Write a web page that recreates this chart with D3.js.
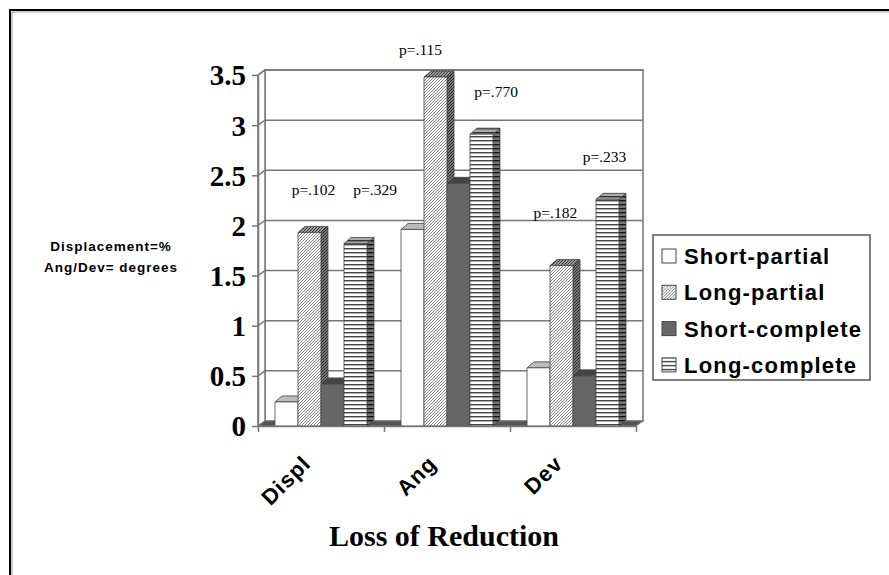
<!DOCTYPE html>
<html>
<head>
<meta charset="utf-8">
<script src="https://cdn.jsdelivr.net/npm/d3@7"></script>
<style>
	body { margin: 0; background: #fff; }
</style>
</head>
<body>
<svg id="chart" width="889" height="575"></svg>
<script>
const CATEGORIES = ["Displ", "Ang", "Dev"];
const SERIES = ["Short-partial", "Long-partial", "Short-complete", "Long-complete"];
const SHORT_PARTIAL = [0.24, 1.96, 0.58];
const LONG_PARTIAL = [1.93, 3.48, 1.60];
const SHORT_COMPLETE = [0.42, 2.42, 0.50];
const LONG_COMPLETE = [1.82, 2.91, 2.26];
const Y_TICKS = [0, 0.5, 1, 1.5, 2, 2.5, 3, 3.5];

// p-value notes: position along the category axis (0..3) and on the value axis
const P_TEXT = ["p=.102", "p=.329", "p=.115", "p=.770", "p=.182", "p=.233"];
const P_AT = [0.44, 0.93, 1.29, 1.89, 2.36, 2.75];
const P_VAL = [2.30, 2.30, 3.70, 3.28, 2.07, 2.63];

const NOTE = ["Displacement=%", "Ang/Dev= degrees"];
const TITLE = "Loss of Reduction";

const VALUES = [SHORT_PARTIAL, LONG_PARTIAL, SHORT_COMPLETE, LONG_COMPLETE];

const svg = d3.select("#chart");

const plotLeft = 258, plotRight = 636, plotBottom = 426, plotTop = 75;
const wallDx = 7, wallDy = -5;
const barDx = 7, barDy = -6;

const x = d3.scaleBand().domain(CATEGORIES).range([plotLeft, plotRight]);
const xSeries = d3.scaleBand()
	.domain(SERIES)
	.range([0, x.bandwidth()])
	.paddingInner(0)
	.paddingOuter(0.74);
const xAt = d3.scaleLinear().domain([0, CATEGORIES.length]).range([plotLeft, plotRight]);
const y = d3.scaleLinear().domain([0, 3.5]).range([plotBottom, plotTop]);

//patterns
const defs = svg.append("defs");
function hatch(id, bg, fg) {
	const p = defs.append("pattern")
		.attr("id", id)
		.attr("patternUnits", "userSpaceOnUse")
		.attr("width", 3)
		.attr("height", 3);
	p.append("rect").attr("width", 3).attr("height", 3).attr("fill", bg);
	p.append("path")
		.attr("d", "M-1,1L1,-1M0,3L3,0M2,4L4,2")
		.attr("stroke", fg)
		.attr("stroke-width", 0.9);
}
function stripe(id, bg, fg) {
	const p = defs.append("pattern")
		.attr("id", id)
		.attr("patternUnits", "userSpaceOnUse")
		.attr("width", 4)
		.attr("height", 4);
	p.append("rect").attr("width", 4).attr("height", 4).attr("fill", bg);
	p.append("rect").attr("y", 0).attr("width", 4).attr("height", 1.4).attr("fill", fg);
}
hatch("hatchFront", "#fff", "#777");
hatch("hatchTop", "#999", "#333");
hatch("hatchSide", "#777", "#222");
stripe("stripeFront", "#fff", "#444");
stripe("stripeTop", "#aaa", "#333");
stripe("stripeSide", "#777", "#111");

const FILLS = [
	{ front: "#fff", top: "#bbb", side: "#999" },
	{ front: "url(#hatchFront)", top: "url(#hatchTop)", side: "url(#hatchSide)" },
	{ front: "#666", top: "#444", side: "#333" },
	{ front: "url(#stripeFront)", top: "url(#stripeTop)", side: "url(#stripeSide)" },
];

//outer frame
svg.append("path")
	.attr("d", "M10,600V10H900")
	.attr("fill", "none")
	.attr("stroke", "#000")
	.attr("stroke-width", 2);
svg.append("path")
	.attr("d", "M12,600V12H900")
	.attr("fill", "none")
	.attr("stroke", "#999")
	.attr("stroke-width", 1);

//walls
const walls = svg.append("g")
	.attr("fill", "#fff")
	.attr("stroke", "#777")
	.attr("stroke-width", 1.5);
walls.append("rect")
	.attr("x", plotLeft + wallDx)
	.attr("y", plotTop + wallDy)
	.attr("width", plotRight - plotLeft)
	.attr("height", plotBottom - plotTop);
walls.append("path")
	.attr("d", `M${plotLeft},${plotTop}L${plotLeft + wallDx},${plotTop + wallDy}V${plotBottom + wallDy}L${plotLeft},${plotBottom}Z`);

walls.selectAll("path.grid")
	.data(Y_TICKS.filter((d) => d > 0))
	.join("path")
	.attr("class", "grid")
	.attr("fill", "none")
	.attr("d", (d) => `M${plotLeft},${y(d)}L${plotLeft + wallDx},${y(d) + wallDy}H${plotRight + wallDx}`);

//floor
svg.append("path")
	.attr("d", `M${plotLeft},${plotBottom}H${plotRight}L${plotRight + wallDx},${plotBottom + wallDy}H${plotLeft + wallDx}Z`)
	.attr("fill", "#555")
	.attr("stroke", "#777")
	.attr("stroke-width", 1);

//bars
const bars = [];
CATEGORIES.forEach((c, i) => {
	SERIES.forEach((s, j) => {
		bars.push({ cat: c, series: s, idx: j, value: VALUES[j][i] });
	});
});

const bar = svg.append("g")
	.attr("stroke", "#444")
	.attr("stroke-width", 0.8)
	.attr("stroke-linejoin", "round")
	.selectAll("g")
	.data(bars)
	.join("g")
	.attr("transform", (d) => `translate(${x(d.cat) + xSeries(d.series)},0)`);

const w = xSeries.bandwidth();
bar.append("path")
	.attr("fill", (d) => FILLS[d.idx].side)
	.attr("d", (d) => `M${w},${y(d.value)}l${barDx},${barDy}V${plotBottom + barDy}L${w},${plotBottom}Z`);
bar.append("path")
	.attr("fill", (d) => FILLS[d.idx].top)
	.attr("d", (d) => `M0,${y(d.value)}H${w}l${barDx},${barDy}H${barDx}Z`);
bar.append("rect")
	.attr("fill", (d) => FILLS[d.idx].front)
	.attr("y", (d) => y(d.value))
	.attr("width", w)
	.attr("height", (d) => plotBottom - y(d.value));

//axes
const yAxis = svg.append("g")
	.attr("transform", `translate(${plotLeft},0)`)
	.call(d3.axisLeft(y).tickValues(Y_TICKS).tickSize(6).tickSizeOuter(0).tickPadding(6).tickFormat(d3.format("")));
yAxis.select(".domain").attr("stroke", "#777").attr("stroke-width", 1.5);
yAxis.selectAll(".tick line").attr("stroke", "#777").attr("stroke-width", 1.5);
yAxis.selectAll(".tick text")
	.attr("fill", "#000")
	.attr("dy", "0.34em")
	.style("font", "bold 29px 'Liberation Serif', 'Times New Roman', serif");

const xAxis = svg.append("g")
	.attr("transform", `translate(0,${plotBottom})`)
	.call(d3.axisBottom(xAt).tickValues(d3.range(CATEGORIES.length + 1)).tickSize(6).tickSizeOuter(0).tickFormat(""));
xAxis.select(".domain").attr("stroke", "#777").attr("stroke-width", 1.5);
xAxis.selectAll(".tick line").attr("stroke", "#777").attr("stroke-width", 1.5);

svg.append("g")
	.selectAll("text")
	.data(CATEGORIES)
	.join("text")
	.attr("transform", (d) => `translate(${x(d) + x.bandwidth() / 2 - 9},465) rotate(-45)`)
	.attr("text-anchor", "end")
	.style("font", "bold 22px 'Liberation Sans', Arial, sans-serif")
	.style("letter-spacing", "1px")
	.text((d) => d);

//p-values
svg.append("g")
	.selectAll("text")
	.data(P_TEXT)
	.join("text")
	.attr("x", (d, i) => xAt(P_AT[i]))
	.attr("y", (d, i) => y(P_VAL[i]))
	.attr("text-anchor", "middle")
	.style("font", "15.5px 'Liberation Serif', 'Times New Roman', serif")
	.text((d) => d);

//note on units
svg.append("g")
	.selectAll("text")
	.data(NOTE)
	.join("text")
	.attr("x", 111)
	.attr("y", (d, i) => 251 + i * 21)
	.attr("text-anchor", "middle")
	.style("font", "bold 13.5px 'Liberation Sans', Arial, sans-serif")
	.style("letter-spacing", "1px")
	.text((d) => d);

//title
svg.append("text")
	.attr("x", 444)
	.attr("y", 546)
	.attr("text-anchor", "middle")
	.style("font", "bold 30px 'Liberation Serif', 'Times New Roman', serif")
	.text(TITLE);

//legend
const legend = svg.append("g").attr("transform", "translate(653,235)");
legend.append("rect")
	.attr("width", 217)
	.attr("height", 145)
	.attr("fill", "#fff")
	.attr("stroke", "#555")
	.attr("stroke-width", 1.5);
const item = legend.selectAll("g")
	.data(SERIES)
	.join("g")
	.attr("transform", (d, i) => `translate(9,${21 + i * 36.3})`);
item.append("rect")
	.attr("y", -7)
	.attr("width", 14)
	.attr("height", 14)
	.attr("fill", (d, i) => FILLS[i].front)
	.attr("stroke", "#444")
	.attr("stroke-width", 1);
item.append("text")
	.attr("x", 22)
	.attr("dy", "0.36em")
	.style("font", "bold 22px 'Liberation Sans', Arial, sans-serif")
	.style("letter-spacing", "1.2px")
	.text((d) => d);
</script>
</body>
</html>
